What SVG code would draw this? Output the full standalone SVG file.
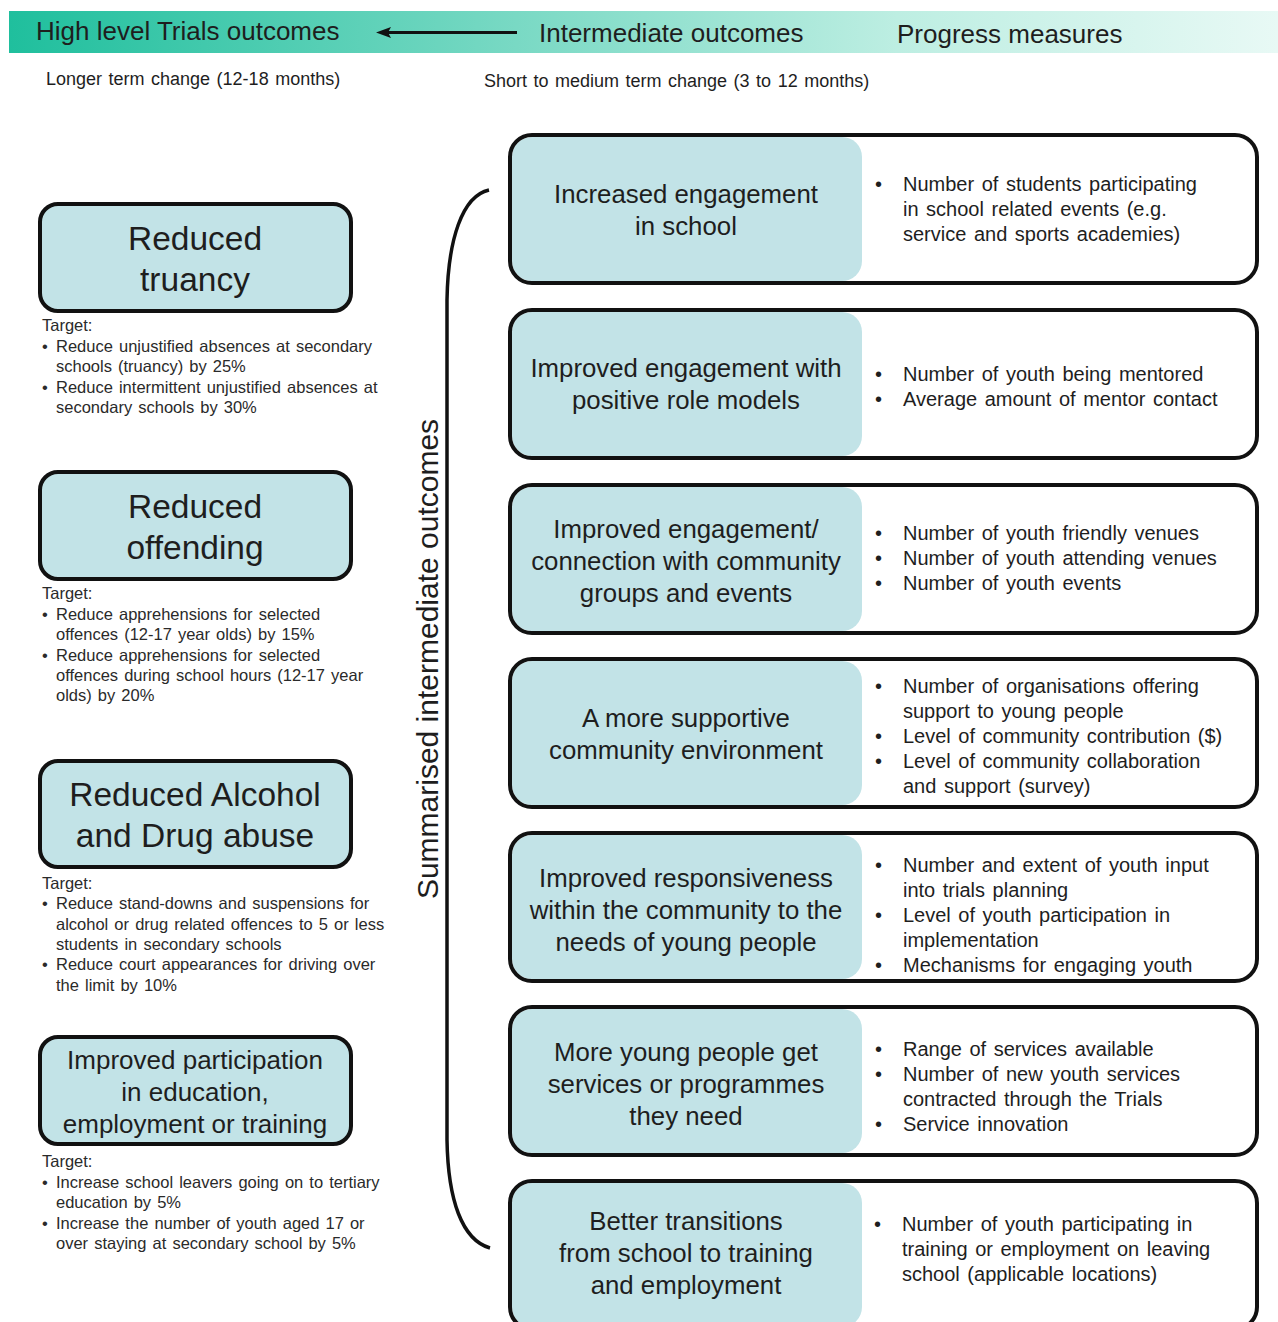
<svg xmlns="http://www.w3.org/2000/svg" width="1278" height="1322" viewBox="0 0 1278 1322">
<defs>
<linearGradient id="hdr" x1="0" y1="0" x2="1" y2="0">
<stop offset="0" stop-color="#1fbf9d"/>
<stop offset="0.4" stop-color="#79d9c4"/>
<stop offset="0.7" stop-color="#bdeee2"/>
<stop offset="1" stop-color="#e8f9f5"/>
</linearGradient>
<style>
text{font-family:"Liberation Sans",Arial,sans-serif;fill:#1e1e1e}
.hd{font-size:26px}
.sub{font-size:18px;word-spacing:1.5px}
.lt{font-size:33.5px;text-anchor:middle}
.lt2{font-size:26px;text-anchor:middle}
.tg{font-size:16.5px;fill:#2a2a2a;word-spacing:1.5px}
.rt{font-size:25.8px;text-anchor:middle}
.pm{font-size:20px;word-spacing:2px}
.lbox{fill:#c2e3e7;stroke:#111;stroke-width:4}
.obox{fill:none;stroke:#111;stroke-width:4}
.ibox{fill:#c2e3e7}
.vt{font-size:30px;text-anchor:middle}
</style>
</defs>
<rect width="1278" height="1322" fill="#fff"/>
<g id="header">
<rect x="9" y="11" width="1269" height="42" fill="url(#hdr)"/>
<text class="hd" x="36" y="40">High level Trials outcomes</text>
<text class="hd" x="539" y="42">Intermediate outcomes</text>
<text class="hd" x="897" y="43">Progress measures</text>
<text class="sub" x="46" y="85">Longer term change (12-18 months)</text>
<text class="sub" x="484" y="87">Short to medium term change (3 to 12 months)</text>
</g>
<g id="connectors">
<line x1="517" y1="32.5" x2="388" y2="32.5" stroke="#111" stroke-width="3"/>
<polygon points="376,32.5 391,27 388,32.5 391,38" fill="#111"/>
<path d="M 489 190 C 462 196, 448 240, 447 300 L 447 1140 C 448 1200, 462 1240, 490 1248" fill="none" stroke="#111" stroke-width="3.5"/>
</g>
<g id="label-summarised">
<text class="vt" transform="translate(438,659) rotate(-90)">Summarised intermediate outcomes</text>
</g>
<g id="truancy">
<rect class="lbox" x="40" y="204" width="311" height="107" rx="18"/>
<text class="lt" x="195" y="250">Reduced</text>
<text class="lt" x="195" y="291">truancy</text>
<text class="tg" x="42" y="331">Target:</text>
<text class="tg" x="42" y="352">• <tspan x="56">Reduce unjustified absences at secondary</tspan></text>
<text class="tg" x="56" y="372">schools (truancy) by 25%</text>
<text class="tg" x="42" y="393">• <tspan x="56">Reduce intermittent unjustified absences at</tspan></text>
<text class="tg" x="56" y="413">secondary schools by 30%</text>
</g>
<g id="offending">
<rect class="lbox" x="40" y="472" width="311" height="107" rx="18"/>
<text class="lt" x="195" y="518">Reduced</text>
<text class="lt" x="195" y="559">offending</text>
<text class="tg" x="42" y="599">Target:</text>
<text class="tg" x="42" y="620">• <tspan x="56">Reduce apprehensions for selected</tspan></text>
<text class="tg" x="56" y="640">offences (12-17 year olds) by 15%</text>
<text class="tg" x="42" y="661">• <tspan x="56">Reduce apprehensions for selected</tspan></text>
<text class="tg" x="56" y="681">offences during school hours (12-17 year</text>
<text class="tg" x="56" y="701">olds) by 20%</text>
</g>
<g id="alcohol">
<rect class="lbox" x="40" y="761" width="311" height="106" rx="18"/>
<text class="lt" x="195" y="806">Reduced Alcohol</text>
<text class="lt" x="195" y="847">and Drug abuse</text>
<text class="tg" x="42" y="889">Target:</text>
<text class="tg" x="42" y="909">• <tspan x="56">Reduce stand-downs and suspensions for</tspan></text>
<text class="tg" x="56" y="930">alcohol or drug related offences to 5 or less</text>
<text class="tg" x="56" y="950">students in secondary schools</text>
<text class="tg" x="42" y="970">• <tspan x="56">Reduce court appearances for driving over</tspan></text>
<text class="tg" x="56" y="991">the limit by 10%</text>
</g>
<g id="participation">
<rect class="lbox" x="40" y="1037" width="311" height="107" rx="18"/>
<text class="lt2" x="195" y="1069">Improved participation</text>
<text class="lt2" x="195" y="1101">in education,</text>
<text class="lt2" x="195" y="1133">employment or training</text>
<text class="tg" x="42" y="1167">Target:</text>
<text class="tg" x="42" y="1188">• <tspan x="56">Increase school leavers going on to tertiary</tspan></text>
<text class="tg" x="56" y="1208">education by 5%</text>
<text class="tg" x="42" y="1229">• <tspan x="56">Increase the number of youth aged 17 or</tspan></text>
<text class="tg" x="56" y="1249">over staying at secondary school by 5%</text>
</g>
<g id="school">
<rect class="ibox" x="512" y="137" width="350" height="144" rx="20"/>
<rect class="obox" x="510" y="135" width="747" height="148" rx="22"/>
<text class="rt" x="686" y="203">Increased engagement</text>
<text class="rt" x="686" y="235">in school</text>
<text class="pm" x="875" y="191">•</text>
<text class="pm" x="903" y="191">Number of students participating</text>
<text class="pm" x="903" y="216">in school related events (e.g.</text>
<text class="pm" x="903" y="241">service and sports academies)</text>
</g>
<g id="rolemodels">
<rect class="ibox" x="512" y="312" width="350" height="144" rx="20"/>
<rect class="obox" x="510" y="310" width="747" height="148" rx="22"/>
<text class="rt" x="686" y="377">Improved engagement with</text>
<text class="rt" x="686" y="409">positive role models</text>
<text class="pm" x="875" y="381">•</text>
<text class="pm" x="903" y="381">Number of youth being mentored</text>
<text class="pm" x="875" y="406">•</text>
<text class="pm" x="903" y="406">Average amount of mentor contact</text>
</g>
<g id="community">
<rect class="ibox" x="512" y="487" width="350" height="144" rx="20"/>
<rect class="obox" x="510" y="485" width="747" height="148" rx="22"/>
<text class="rt" x="686" y="538">Improved engagement/</text>
<text class="rt" x="686" y="570">connection with community</text>
<text class="rt" x="686" y="602">groups and events</text>
<text class="pm" x="875" y="540">•</text>
<text class="pm" x="903" y="540">Number of youth friendly venues</text>
<text class="pm" x="875" y="565">•</text>
<text class="pm" x="903" y="565">Number of youth attending venues</text>
<text class="pm" x="875" y="590">•</text>
<text class="pm" x="903" y="590">Number of youth events</text>
</g>
<g id="supportive">
<rect class="ibox" x="512" y="661" width="350" height="144" rx="20"/>
<rect class="obox" x="510" y="659" width="747" height="148" rx="22"/>
<text class="rt" x="686" y="727">A more supportive</text>
<text class="rt" x="686" y="759">community environment</text>
<text class="pm" x="875" y="693">•</text>
<text class="pm" x="903" y="693">Number of organisations offering</text>
<text class="pm" x="903" y="718">support to young people</text>
<text class="pm" x="875" y="743">•</text>
<text class="pm" x="903" y="743">Level of community contribution ($)</text>
<text class="pm" x="875" y="768">•</text>
<text class="pm" x="903" y="768">Level of community collaboration</text>
<text class="pm" x="903" y="793">and support (survey)</text>
</g>
<g id="responsiveness">
<rect class="ibox" x="512" y="835" width="350" height="144" rx="20"/>
<rect class="obox" x="510" y="833" width="747" height="148" rx="22"/>
<text class="rt" x="686" y="887">Improved responsiveness</text>
<text class="rt" x="686" y="919">within the community to the</text>
<text class="rt" x="686" y="951">needs of young people</text>
<text class="pm" x="875" y="872">•</text>
<text class="pm" x="903" y="872">Number and extent of youth input</text>
<text class="pm" x="903" y="897">into trials planning</text>
<text class="pm" x="875" y="922">•</text>
<text class="pm" x="903" y="922">Level of youth participation in</text>
<text class="pm" x="903" y="947">implementation</text>
<text class="pm" x="875" y="972">•</text>
<text class="pm" x="903" y="972">Mechanisms for engaging youth</text>
</g>
<g id="services">
<rect class="ibox" x="512" y="1009" width="350" height="144" rx="20"/>
<rect class="obox" x="510" y="1007" width="747" height="148" rx="22"/>
<text class="rt" x="686" y="1061">More young people get</text>
<text class="rt" x="686" y="1093">services or programmes</text>
<text class="rt" x="686" y="1125">they need</text>
<text class="pm" x="875" y="1056">•</text>
<text class="pm" x="903" y="1056">Range of services available</text>
<text class="pm" x="875" y="1081">•</text>
<text class="pm" x="903" y="1081">Number of new youth services</text>
<text class="pm" x="903" y="1106">contracted through the Trials</text>
<text class="pm" x="875" y="1131">•</text>
<text class="pm" x="903" y="1131">Service innovation</text>
</g>
<g id="transitions">
<rect class="ibox" x="512" y="1183" width="350" height="144" rx="20"/>
<rect class="obox" x="510" y="1181" width="747" height="148" rx="22"/>
<text class="rt" x="686" y="1230">Better transitions</text>
<text class="rt" x="686" y="1262">from school to training</text>
<text class="rt" x="686" y="1294">and employment</text>
<text class="pm" x="874" y="1231">•</text>
<text class="pm" x="902" y="1231">Number of youth participating in</text>
<text class="pm" x="902" y="1256">training or employment on leaving</text>
<text class="pm" x="902" y="1281">school (applicable locations)</text>
</g>
</svg>
